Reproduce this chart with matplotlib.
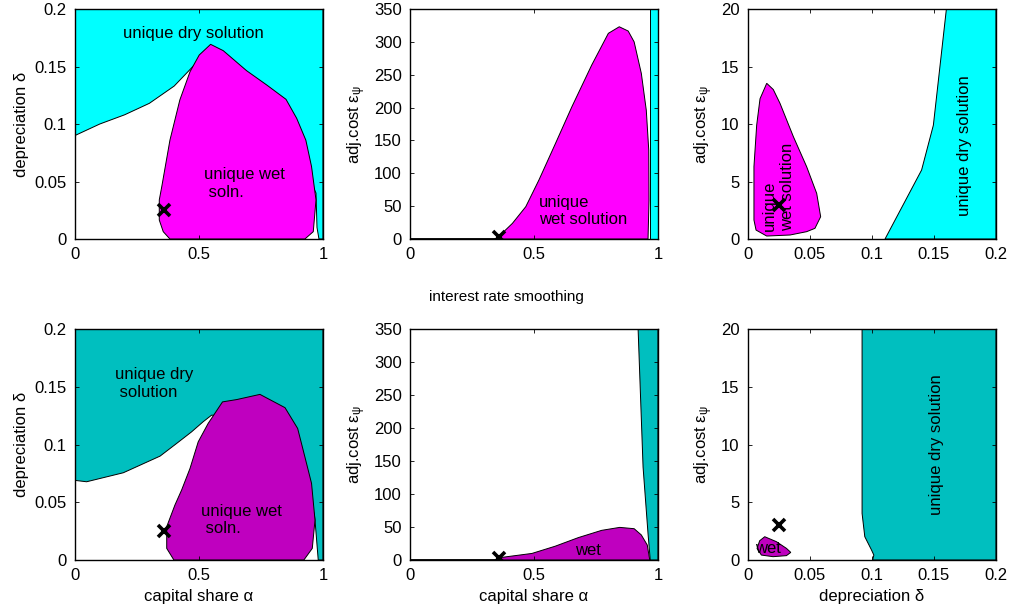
import numpy as np
import matplotlib
matplotlib.use('Agg')
import matplotlib.pyplot as plt
from matplotlib.patches import Polygon

plt.rcParams['font.family'] = ['Liberation Sans', 'DejaVu Sans']
plt.rcParams['font.size'] = 12
plt.rcParams['mathtext.fontset'] = 'custom'
plt.rcParams['mathtext.rm'] = 'Liberation Sans'
plt.rcParams['mathtext.it'] = 'Liberation Sans:italic'

# Colours
cyan, magenta = '#00FFFF', '#FF00FF'
teal, purple = '#00BFBF', '#BF00BF'

# Calibrated point (alpha, delta, eps_psi)
alpha0, delta0, eps0 = 0.36, 0.025, 3

# --- top row (no smoothing) ---
# panel 1: alpha vs delta
p1_dry_a = [0, 0.1, 0.2, 0.3, 0.4, 0.48, 0.55, 0.7, 0.85, 0.95, 0.972, 0.976, 0.984, 1, 1, 0]
p1_dry_d = [0.09, 0.1, 0.108, 0.118, 0.133, 0.151, 0.155, 0.12, 0.08, 0.05, 0.04, 0.01, 0, 0, 0.2, 0.2]
p1_wet_a = [0.547, 0.501, 0.464, 0.423, 0.383, 0.350, 0.340, 0.340, 0.356, 0.383,
            0.927, 0.961, 0.972, 0.954, 0.931, 0.894, 0.851, 0.773, 0.692, 0.598]
p1_wet_d = [0.1693, 0.160, 0.1455, 0.121, 0.086, 0.0455, 0.034, 0.0165, 0.0064, 0,
            0, 0.0064, 0.034, 0.063, 0.086, 0.105, 0.1215, 0.134, 0.1464, 0.1638]

# panel 2: alpha vs eps_psi
p2_dry_a = [0.969, 1, 1, 0.969]
p2_dry_e = [0, 0, 350, 350]
p2_wet_a = [0, 0.36, 0.364, 0.413, 0.467, 0.52, 0.587, 0.653, 0.733, 0.8, 0.844, 0.88,
            0.904, 0.933, 0.953, 0.963, 0.964, 0.96]
p2_wet_e = [0, 0, 6, 23.8, 49.2, 89.8, 145.6, 201.3, 264.8, 313, 323, 316.5,
            300, 252, 196, 135, 59, 0]

# panel 3: delta vs eps_psi
p3_dry_d = [0.1105, 0.140, 0.1495, 0.160, 0.2, 0.2]
p3_dry_e = [0, 6.0, 9.9, 20, 20, 0]
p3_wet_d = [0.0151, 0.0204, 0.0258, 0.0366, 0.0473, 0.0554, 0.0586, 0.054, 0.0473,
            0.0339, 0.0151, 0.0065, 0.0048, 0.0048, 0.007, 0.0097]
p3_wet_e = [13.54, 13.0, 11.8, 8.9, 6.29, 3.97, 1.94, 0.93, 0.64,
            0.35, 0.26, 0.78, 1.65, 6.3, 9.9, 12.2]

# --- bottom row (interest rate smoothing) ---
p4_dry_a = [0, 0.047, 0.195, 0.343, 0.41, 0.47, 0.517, 0.551, 0.6, 0.8, 0.93,
            0.965, 0.968, 0.981, 1, 1, 0]
p4_dry_d = [0.069, 0.0678, 0.0756, 0.090, 0.101, 0.111, 0.1198, 0.1255, 0.125, 0.1,
            0.06, 0.04, 0.0346, 0, 0, 0.2, 0.2]
p4_wet_a = [0.595, 0.652, 0.746, 0.847, 0.898, 0.927, 0.954, 0.968, 0.957, 0.923,
            0.399, 0.37, 0.37, 0.403, 0.43, 0.464, 0.497, 0.537]
p4_wet_d = [0.137, 0.139, 0.1435, 0.132, 0.114, 0.0895, 0.0664, 0.0346, 0.0101, 0,
            0, 0.0101, 0.0289, 0.0476, 0.0606, 0.0794, 0.1024, 0.1183]

p5_dry_a = [0.92, 0.94, 0.96, 0.969, 1, 1]
p5_dry_e = [350, 141, 40, 0, 0, 350]
p5_wet_a = [0, 0.36, 0.37, 0.492, 0.586, 0.679, 0.773, 0.846, 0.904, 0.933, 0.957, 0.967]
p5_wet_e = [0, 0, 4, 10, 21, 34, 45, 49.5, 47.5, 38, 22.7, 0]

p6_dry_d = [0.092, 0.092, 0.0942, 0.0996, 0.1015, 0.1005, 0.2, 0.2]
p6_dry_e = [20, 4.04, 2.02, 0.87, 0.43, 0, 0, 20]
p6_wet_d = [0.0135, 0.0229, 0.031, 0.0345, 0.031, 0.0202, 0.0108, 0.0073, 0.0094]
p6_wet_e = [2.02, 1.59, 1.01, 0.66, 0.38, 0.29, 0.43, 1.0, 1.67]

# ticks
alpha_ticks, alpha_labels = [0, 0.5, 1], ['0', '0.5', '1']
delta_ticks = [0, 0.05, 0.1, 0.15, 0.2]
delta_labels = ['0', '0.05', '0.1', '0.15', '0.2']
eps_big_ticks = [0, 50, 100, 150, 200, 250, 300, 350]
eps_small_ticks = [0, 5, 10, 15, 20]

lab_alpha = 'capital share α'
lab_delta = 'depreciation δ'
lab_eps = r'adj.cost ε$_{\mathrm{ψ}}$'

fig = plt.figure(figsize=(10.13, 6.14), dpi=100)
lefts = [0.074, 0.4047, 0.7384]
w = 0.2448
rows = [(0.6107, 0.3746), (0.0879, 0.376)]
axes = [[fig.add_axes([l, b, w, h]) for l in lefts] for (b, h) in rows]


def region(ax, xs, ys, col):
    ax.add_patch(Polygon(np.column_stack([xs, ys]), closed=True, fc=col,
                         ec='black', lw=0.7))


def style(ax, xlim, ylim, xt, xtl, yt, ytl):
    ax.set_xlim(xlim)
    ax.set_ylim(ylim)
    ax.set_xticks(xt)
    ax.set_xticklabels(xtl)
    ax.set_yticks(yt)
    ax.set_yticklabels(ytl)
    ax.tick_params(direction='in', length=3, width=0.6, top=True, right=True,
                   labelsize=12, pad=6)
    for s in ax.spines.values():
        s.set_linewidth(1.0)


def cross(ax, x, y):
    ax.plot([x], [y], 'x', color='black', ms=8, mew=2.6, zorder=5)


# panel 1
ax = axes[0][0]
region(ax, p1_dry_a, p1_dry_d, cyan)
region(ax, p1_wet_a, p1_wet_d, magenta)
cross(ax, alpha0, delta0)
ax.text(0.477, 0.179, 'unique dry solution', ha='center', va='center')
ax.text(0.52, 0.0484, 'unique wet\n soln.', ha='left', va='center')
style(ax, (0, 1), (0, 0.2), alpha_ticks, alpha_labels, delta_ticks, delta_labels)
ax.set_ylabel(lab_delta)

# panel 2
ax = axes[0][1]
region(ax, p2_dry_a, p2_dry_e, cyan)
region(ax, p2_wet_a, p2_wet_e, magenta)
cross(ax, alpha0, eps0)
ax.text(0.52, 43, 'unique\nwet solution', ha='left', va='center')
style(ax, (0, 1), (0, 350), alpha_ticks, alpha_labels, eps_big_ticks,
      [str(t) for t in eps_big_ticks])
ax.set_ylabel(lab_eps)

# panel 3
ax = axes[0][2]
region(ax, p3_dry_d, p3_dry_e, cyan)
region(ax, p3_wet_d, p3_wet_e, magenta)
cross(ax, delta0, eps0)
ax.text(0.0245, 0.7, 'unique\nwet solution', rotation=90, ha='center', va='bottom',
        multialignment='left', zorder=6)
ax.text(0.175, 8.1, 'unique dry solution', rotation=90, ha='center', va='center')
style(ax, (0, 0.2), (0, 20), delta_ticks, delta_labels, eps_small_ticks,
      [str(t) for t in eps_small_ticks])
ax.set_ylabel(lab_eps)

# panel 4
ax = axes[1][0]
region(ax, p4_dry_a, p4_dry_d, teal)
region(ax, p4_wet_a, p4_wet_d, purple)
cross(ax, alpha0, delta0)
ax.text(0.161, 0.153, 'unique dry\n solution', ha='left', va='center')
ax.text(0.508, 0.0349, 'unique wet\n soln.', ha='left', va='center')
style(ax, (0, 1), (0, 0.2), alpha_ticks, alpha_labels, delta_ticks, delta_labels)
ax.set_ylabel(lab_delta)
ax.set_xlabel(lab_alpha)

# panel 5
ax = axes[1][1]
region(ax, p5_dry_a, p5_dry_e, teal)
region(ax, p5_wet_a, p5_wet_e, purple)
cross(ax, alpha0, eps0)
ax.text(0.716, 14, 'wet', ha='center', va='center')
style(ax, (0, 1), (0, 350), alpha_ticks, alpha_labels, eps_big_ticks,
      [str(t) for t in eps_big_ticks])
ax.set_ylabel(lab_eps)
ax.set_xlabel(lab_alpha)

# panel 6
ax = axes[1][2]
region(ax, p6_dry_d, p6_dry_e, teal)
region(ax, p6_wet_d, p6_wet_e, purple)
cross(ax, delta0, eps0)
ax.text(0.0161, 1.0, 'wet', ha='center', va='center')
ax.text(0.152, 10, 'unique dry solution', rotation=90, ha='center', va='center')
style(ax, (0, 0.2), (0, 20), delta_ticks, delta_labels, eps_small_ticks,
      [str(t) for t in eps_small_ticks])
ax.set_ylabel(lab_eps)
ax.set_xlabel(lab_delta)

fig.text(0.5, 0.516, 'interest rate smoothing', ha='center', va='center', fontsize=11)

fig.savefig('out.png', dpi=100)
